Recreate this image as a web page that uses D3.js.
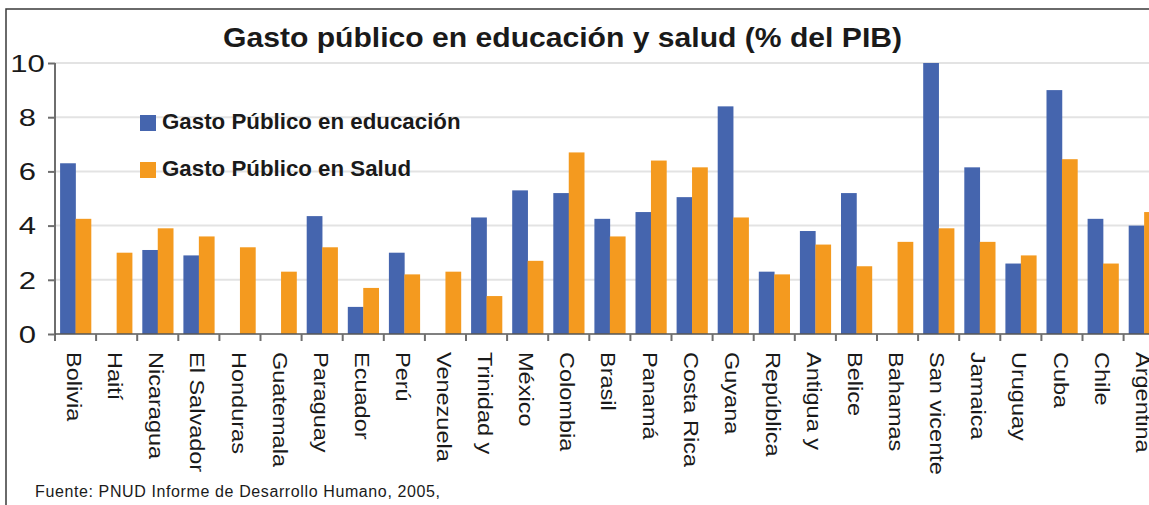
<!DOCTYPE html>
<html>
<head>
<meta charset="utf-8">
<script src="https://cdn.jsdelivr.net/npm/d3@7"></script>
<style>
  body { margin: 0; background: #fff; }
  svg { display: block; font-family: "Liberation Sans", Arial, sans-serif; }
</style>
</head>
<body>
<div id="wrapper"></div>
<script>
const countries = ["Bolivia", "Haití", "Nicaragua", "El Salvador", "Honduras", "Guatemala",
    "Paraguay", "Ecuador", "Perú", "Venezuela", "Trinidad y", "México", "Colombia", "Brasil",
    "Panamá", "Costa Rica", "Guyana", "República", "Antigua y", "Belice", "Bahamas",
    "San vicente", "Jamaica", "Uruguay", "Cuba", "Chile", "Argentina"]

const educacion = [6.3, null, 3.1, 2.9, null, null, 4.35, 1.0, 3.0, null, 4.3, 5.3, 5.2, 4.25,
    4.5, 5.05, 8.4, 2.3, 3.8, 5.2, null, 10.0, 6.15, 2.6, 9.0, 4.25, 4.0]
const salud = [4.25, 3.0, 3.9, 3.6, 3.2, 2.3, 3.2, 1.7, 2.2, 2.3, 1.4, 2.7, 6.7, 3.6, 6.4,
    6.15, 4.3, 2.2, 3.3, 2.5, 3.4, 3.9, 3.4, 2.9, 6.45, 2.6, 4.5]

const seriesNames = ["Gasto Público en educación", "Gasto Público en Salud"]
const seriesColors = ["#4565ae", "#f49a1f"]
const yTicks = [0, 2, 4, 6, 8, 10]

const title = "Gasto público en educación y salud (% del PIB)"
const source = "Fuente: PNUD Informe de Desarrollo Humano, 2005,"

function drawChart() {
    const dimensions = {
        width: 1149,
        height: 505,
        margin: { top: 63, left: 55, bottom: 171 },
        step: 41.1,
    }
    const plotBottom = dimensions.height - dimensions.margin.bottom
    const plotRight = dimensions.margin.left + countries.length * dimensions.step

    const svg = d3.select("#wrapper")
        .append("svg")
        .attr("width", dimensions.width)
        .attr("height", dimensions.height)

    // outer frame (right and bottom edges are outside the picture)
    svg.append("rect")
        .attr("x", 6).attr("y", 9)
        .attr("width", 1300).attr("height", 700)
        .attr("fill", "none")
        .attr("stroke", "#3a3a3a")
        .attr("stroke-width", 1.5)

    const xScale = d3.scaleBand()
        .domain(countries)
        .range([dimensions.margin.left, plotRight])
        .padding(0)
    const xSub = d3.scaleBand()
        .domain([0, 1])
        .range([0, xScale.bandwidth()])
        .paddingInner(0)
        .paddingOuter(0.33)
    const yScale = d3.scaleLinear()
        .domain([0, 10])
        .range([plotBottom, dimensions.margin.top])

    // gridlines
    svg.append("g")
        .selectAll("line")
        .data(yTicks.filter(d => d > 0))
        .join("line")
        .attr("x1", dimensions.margin.left)
        .attr("x2", plotRight)
        .attr("y1", d => yScale(d))
        .attr("y2", d => yScale(d))
        .attr("stroke", "#e3e3e3")
        .attr("stroke-width", 2)

    // bars
    const rows = countries.map((c, i) => ({ country: c, values: [educacion[i], salud[i]] }))
    svg.append("g")
        .selectAll("g")
        .data(rows)
        .join("g")
        .attr("transform", d => `translate(${xScale(d.country)},0)`)
        .selectAll("rect")
        .data(d => d.values.map((v, k) => ({ k, v })).filter(e => e.v != null))
        .join("rect")
        .attr("x", d => xSub(d.k))
        .attr("width", xSub.bandwidth() + 0.3)
        .attr("y", d => yScale(d.v))
        .attr("height", d => yScale(0) - yScale(d.v))
        .attr("fill", d => seriesColors[d.k])

    // y axis
    const yAxis = svg.append("g")
        .attr("transform", `translate(${dimensions.margin.left},0)`)
        .call(d3.axisLeft(yScale).tickValues(yTicks).tickSize(7).tickSizeOuter(0).tickFormat(d3.format("d")))
    yAxis.select(".domain").attr("stroke", "#6e6e6e").attr("stroke-width", 2)
        .attr("d", `M0,${yScale(10)}V${plotBottom + 7}`)
    yAxis.selectAll(".tick line").attr("stroke", "#6e6e6e").attr("stroke-width", 2)
    yAxis.selectAll(".tick text")
        .attr("x", 0)
        .attr("dy", "0.36em")
        .attr("text-anchor", "middle")
        .attr("transform", "translate(-27.5,0) scale(1.35,1)")
        .attr("fill", "#1a1a1a")
        .attr("font-size", 23)
        .attr("font-family", "Liberation Sans, Arial, sans-serif")

    // x axis line and ticks at category boundaries
    const xAxis = svg.append("g")
    xAxis.append("line")
        .attr("x1", dimensions.margin.left).attr("x2", plotRight)
        .attr("y1", plotBottom).attr("y2", plotBottom)
        .attr("stroke", "#555")
        .attr("stroke-opacity", 0.75)
        .attr("stroke-width", 2)
    xAxis.selectAll(".bound")
        .data(countries.slice(1))
        .join("line")
        .attr("class", "bound")
        .attr("x1", d => xScale(d)).attr("x2", d => xScale(d))
        .attr("y1", plotBottom).attr("y2", plotBottom + 7)
        .attr("stroke", "#6e6e6e")
        .attr("stroke-width", 2)

    // rotated category labels
    xAxis.selectAll(".label")
        .data(countries)
        .join("text")
        .attr("class", "label")
        .attr("transform", d => `translate(${xScale(d) + xScale.bandwidth() / 2 - 1},${plotBottom + 18}) rotate(90) scale(1.12,1)`)
        .attr("dy", "0.35em")
        .attr("font-size", 21)
        .attr("fill", "#1a1a1a")
        .text(d => d)

    // title
    svg.append("text")
        .attr("x", 223)
        .attr("y", 47)
        .attr("textLength", 679)
        .attr("lengthAdjust", "spacingAndGlyphs")
        .attr("font-size", 28)
        .attr("font-weight", "bold")
        .attr("fill", "#1a1a1a")
        .text(title)

    // legend
    const legend = svg.append("g")
        .selectAll("g")
        .data(seriesNames)
        .join("g")
        .attr("transform", (d, i) => `translate(140,${115 + i * 47})`)
    legend.append("rect")
        .attr("width", 16).attr("height", 16)
        .attr("fill", (d, i) => seriesColors[i])
    legend.append("text")
        .attr("x", 22)
        .attr("y", 14)
        .attr("font-size", 22.3)
        .attr("font-weight", "bold")
        .attr("fill", "#1a1a1a")
        .text(d => d)

    // source note
    svg.append("text")
        .attr("x", 35)
        .attr("y", 497)
        .attr("font-size", 16)
        .attr("textLength", 405)
        .attr("lengthAdjust", "spacing")
        .attr("fill", "#1a1a1a")
        .text(source)
}

drawChart()
</script>
</body>
</html>
